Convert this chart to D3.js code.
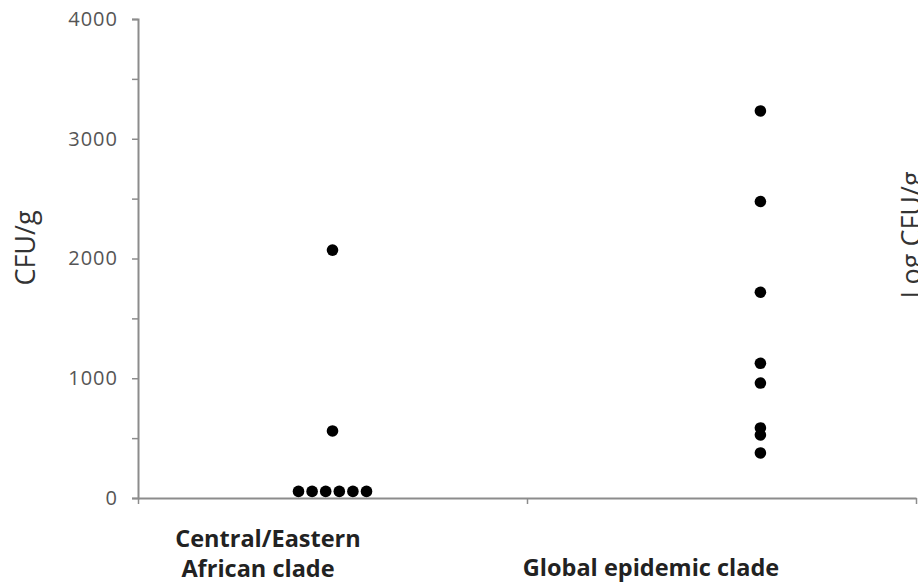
<!DOCTYPE html>
<html>
<head>
<meta charset="utf-8">
<script src="https://cdn.jsdelivr.net/npm/d3@7"></script>
<style>
  body { margin: 0; background: #fff; }
  svg { display: block; }
</style>
</head>
<body>
<script>
  // categories and their position along the x axis (axis runs 0..2)
  const categories = ["Central/Eastern African clade", "Global epidemic clade"];
  const categoryPos = [0.5, 1.6];

  // CFU/g
  const centralValues = [2070, 560, 55, 55, 55, 55, 55, 55];
  const globalValues = [3232, 2476, 1718, 1125, 960, 585, 526, 376];

  const yTicks = [0, 500, 1000, 1500, 2000, 2500, 3000, 3500, 4000];

  const width = 918, height = 584;
  const font = "'Open Sans', sans-serif";
  const axisColor = "#8c8c8c";

  const svg = d3.select("body").append("svg")
    .attr("width", width)
    .attr("height", height);

  const x = d3.scaleLinear().domain([0, 2]).range([138, 916]);
  const y = d3.scaleLinear().domain([0, 4000]).range([498, 19]);

  // y axis
  const yAxis = svg.append("g")
    .attr("transform", `translate(${x(0)},0)`)
    .call(d3.axisLeft(y)
      .tickValues(yTicks)
      .tickSize(6)
      .tickPadding(14)
      .tickFormat(d => d % 1000 === 0 ? d : ""));
  yAxis.select(".domain").attr("stroke", axisColor).attr("stroke-width", 2);
  yAxis.selectAll(".tick line").attr("stroke", axisColor).attr("stroke-width", 1.5);
  yAxis.selectAll(".tick text")
    .attr("fill", "#555")
    .style("font-family", font)
    .style("font-size", "20px")
    .style("letter-spacing", "1px");

  // x axis
  const xAxis = svg.append("g")
    .attr("transform", `translate(0,${y(0)})`)
    .call(d3.axisBottom(x).tickValues([0, 1, 2]).tickSize(6).tickSizeOuter(0).tickFormat(""));
  xAxis.select(".domain").attr("stroke", axisColor).attr("stroke-width", 2);
  xAxis.selectAll(".tick line").attr("stroke", axisColor).attr("stroke-width", 1.5);

  // points: equal values get spread side by side
  const spacing = 13.6;
  function layout(values, ci) {
    const groups = d3.group(values, v => v);
    const pts = [];
    groups.forEach((vals, v) => {
      vals.forEach((_, i) => {
        pts.push({ cx: x(categoryPos[ci]) + (i - (vals.length - 1) / 2) * spacing, cy: y(v) });
      });
    });
    return pts;
  }
  const points = layout(centralValues, 0).concat(layout(globalValues, 1));

  svg.append("g").selectAll("circle")
    .data(points)
    .join("circle")
    .attr("cx", d => d.cx)
    .attr("cy", d => d.cy)
    .attr("r", 5.8)
    .attr("fill", "#000");

  // category labels
  const catLabels = svg.append("g")
    .style("font-family", font)
    .style("font-weight", "bold")
    .style("font-size", "23.5px")
    .attr("fill", "#222")
    .attr("text-anchor", "middle");
  catLabels.append("text").attr("x", 268).attr("y", 547).text("Central/Eastern");
  catLabels.append("text").attr("x", 258).attr("y", 577).text("African clade");
  catLabels.append("text").attr("x", 651).attr("y", 576).text(categories[1]);

  // axis titles
  svg.append("text")
    .attr("transform", "translate(35,248) rotate(-90)")
    .attr("text-anchor", "middle")
    .attr("fill", "#333")
    .style("font-family", font)
    .style("font-size", "27px")
    .text("CFU/g");

  svg.append("text")
    .attr("transform", "translate(921,235) rotate(-90)")
    .attr("text-anchor", "middle")
    .attr("fill", "#333")
    .style("font-family", font)
    .style("font-size", "27px")
    .text("Log CFU/g");
</script>
</body>
</html>
